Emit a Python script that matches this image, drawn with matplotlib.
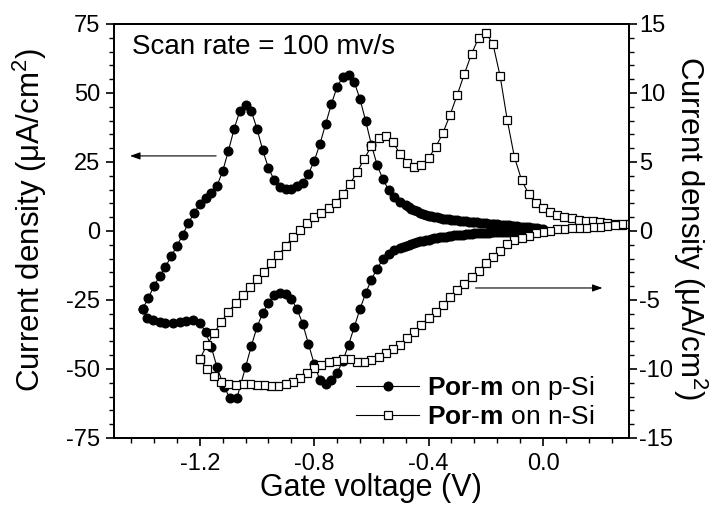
import numpy as np
import matplotlib
matplotlib.use('Agg')
import matplotlib.pyplot as plt
from matplotlib.ticker import MultipleLocator, AutoMinorLocator, FormatStrFormatter

plt.rcParams['font.family'] = ['Liberation Sans', 'DejaVu Sans']
plt.rcParams['mathtext.fontset'] = 'custom'
plt.rcParams['mathtext.rm'] = 'Liberation Sans'
plt.rcParams['mathtext.bf'] = 'Liberation Sans:bold'
plt.rcParams['mathtext.default'] = 'regular'
plt.rcParams['axes.unicode_minus'] = False

# Por-m on p-Si (left axis), forward scan -1.4 -> 0 V
p_v_fwd = [-1.40, -1.38, -1.36, -1.34, -1.32, -1.30, -1.28, -1.26, -1.24, -1.22,
           -1.20, -1.18, -1.16, -1.14, -1.12, -1.10, -1.08, -1.06, -1.04, -1.02,
           -1.00, -0.98, -0.96, -0.94, -0.92, -0.90, -0.88, -0.86, -0.84, -0.82,
           -0.80, -0.78, -0.76, -0.74, -0.72, -0.70, -0.68, -0.66, -0.64, -0.62,
           -0.60, -0.58, -0.56, -0.54, -0.52, -0.50, -0.48,
           -0.47, -0.46, -0.45, -0.44, -0.43, -0.42, -0.41, -0.40, -0.39, -0.38,
           -0.37, -0.36, -0.35, -0.34, -0.33, -0.32, -0.31, -0.30, -0.29, -0.28,
           -0.27, -0.26, -0.25, -0.24, -0.23, -0.22, -0.21, -0.20, -0.19, -0.18,
           -0.17, -0.16, -0.15, -0.14, -0.13, -0.12, -0.11, -0.10, -0.09, -0.08,
           -0.07, -0.06, -0.05, -0.04, -0.03, -0.02, -0.01, 0.00]
p_j_fwd = [-28.3, -24.3, -19.9, -16.3, -12.9, -9.2, -5.4, -1.4, 2.9, 6.5,
           9.8, 12.0, 13.8, 16.3, 21.7, 29.0, 37.0, 43.5, 45.7, 43.5,
           37.0, 29.3, 22.8, 18.5, 15.9, 15.2, 15.2, 16.3, 17.4, 20.7,
           25.4, 31.5, 38.8, 46.0, 52.2, 55.8, 56.5, 54.0, 47.8, 39.9,
           31.2, 23.9, 18.8, 14.9, 12.3, 10.5, 9.4,
           8.7, 8.1, 7.6, 7.1, 6.6, 6.2, 5.9, 5.6, 5.3, 5.1,
           4.9, 4.7, 4.5, 4.3, 4.2, 4.0, 3.9, 3.8, 3.7, 3.6,
           3.5, 3.4, 3.3, 3.2, 3.1, 3.0, 2.9, 2.8, 2.7, 2.6,
           2.5, 2.4, 2.3, 2.2, 2.1, 2.0, 1.9, 1.8, 1.7, 1.6,
           1.5, 1.4, 1.3, 1.2, 1.1, 1.0, 0.9, 0.8]

# Por-m on p-Si, reverse scan 0 -> -1.4 V
p_v_rev = [0.00, -0.01, -0.02, -0.03, -0.04, -0.05, -0.06, -0.07, -0.08, -0.09,
           -0.10, -0.11, -0.12, -0.13, -0.14, -0.15, -0.16, -0.17, -0.18, -0.19,
           -0.20, -0.21, -0.22, -0.23, -0.24, -0.25, -0.26, -0.27, -0.28, -0.29,
           -0.30, -0.31, -0.32, -0.33, -0.34, -0.35, -0.36, -0.37, -0.38, -0.39,
           -0.40, -0.41, -0.42, -0.43, -0.44, -0.45, -0.46, -0.47, -0.48, -0.49,
           -0.50, -0.52, -0.54, -0.56, -0.58, -0.60, -0.62, -0.64, -0.66, -0.68,
           -0.70, -0.72, -0.74, -0.76, -0.78, -0.80, -0.82, -0.84, -0.86, -0.88,
           -0.90, -0.92, -0.94, -0.96, -0.98, -1.00, -1.02, -1.04, -1.07, -1.095,
           -1.115, -1.14, -1.16, -1.18, -1.20, -1.225, -1.25, -1.27, -1.295, -1.32,
           -1.34, -1.365, -1.385, -1.40]
p_j_rev = [0.4, 0.3, 0.3, 0.2, 0.2, 0.1, 0.1, 0.0, 0.0, -0.1,
           -0.1, -0.2, -0.2, -0.3, -0.3, -0.4, -0.4, -0.5, -0.5, -0.6,
           -0.6, -0.7, -0.7, -0.8, -0.9, -1.0, -1.1, -1.2, -1.3, -1.4,
           -1.5, -1.6, -1.7, -1.9, -2.0, -2.2, -2.3, -2.5, -2.7, -2.9,
           -3.1, -3.3, -3.6, -3.8, -4.1, -4.4, -4.7, -5.0, -5.4, -5.8,
           -6.2, -7.0, -8.3, -10.3, -13.6, -17.6, -22.5, -28.3, -34.8, -41.3,
           -47.1, -51.4, -54.0, -55.5, -54.0, -48.2, -40.9, -33.7, -28.3, -24.6,
           -22.8, -22.5, -23.2, -26.1, -29.7, -34.8, -41.7, -49.3, -60.5, -60.5,
           -56.5, -49.3, -42.0, -36.6, -33.3, -32.2, -32.6, -33.0, -33.3, -33.3,
           -33.0, -32.2, -31.5, -28.3]

# Por-m on n-Si (right axis), forward scan -1.2 -> 0.3 V
n_v_fwd = [-1.200, -1.175, -1.150, -1.125, -1.100, -1.075, -1.050, -1.025, -1.000, -0.975,
           -0.950, -0.925, -0.900, -0.875, -0.850, -0.825, -0.800, -0.775, -0.750, -0.725,
           -0.700, -0.675, -0.650, -0.625, -0.600, -0.575, -0.550, -0.525, -0.500, -0.475,
           -0.450, -0.425, -0.400, -0.375, -0.350, -0.325, -0.300, -0.275, -0.250, -0.225,
           -0.200, -0.175, -0.150, -0.125, -0.100, -0.075, -0.050, -0.025, 0.000, 0.025,
           0.050, 0.075, 0.100, 0.125, 0.150, 0.175, 0.200, 0.225, 0.250, 0.275, 0.300]
n_j_fwd = [-9.28, -8.26, -7.39, -6.59, -5.87, -5.22, -4.64, -4.06, -3.48, -2.97,
           -2.32, -1.74, -1.09, -0.43, 0.07, 0.58, 1.01, 1.30, 1.67, 2.03,
           2.68, 3.41, 4.28, 5.22, 6.16, 6.74, 6.88, 6.45, 5.58, 4.93,
           4.64, 4.78, 5.29, 6.09, 7.10, 8.41, 9.86, 11.38, 12.83, 13.99,
           14.35, 13.55, 11.23, 8.04, 5.36, 3.70, 2.68, 2.03, 1.67, 1.38,
           1.16, 1.01, 0.94, 0.80, 0.72, 0.72, 0.65, 0.58, 0.51, 0.43, 0.50]

# Por-m on n-Si, reverse scan 0.3 -> -1.2 V
n_v_rev = [0.275, 0.250, 0.225, 0.200, 0.175, 0.150, 0.125, 0.100, 0.075, 0.050,
           0.025, 0.000, -0.025, -0.050, -0.075, -0.100, -0.125, -0.150, -0.175, -0.200,
           -0.225, -0.250, -0.275, -0.300, -0.325, -0.350, -0.375, -0.400, -0.425, -0.450,
           -0.475, -0.500, -0.525, -0.550, -0.575, -0.600, -0.625, -0.650, -0.675, -0.700,
           -0.725, -0.750, -0.775, -0.800, -0.825, -0.850, -0.875, -0.900, -0.925, -0.950,
           -0.975, -1.000, -1.025, -1.050, -1.075, -1.100, -1.125, -1.150, -1.175, -1.200]
n_j_rev = [0.51, 0.43, 0.36, 0.29, 0.29, 0.22, 0.22, 0.22, 0.14, 0.14,
           0.00, -0.07, -0.14, -0.36, -0.51, -0.65, -0.94, -1.45, -1.88, -2.32,
           -2.90, -3.33, -3.84, -4.28, -4.78, -5.36, -5.87, -6.30, -6.81, -7.32,
           -7.75, -8.26, -8.55, -8.84, -9.13, -9.35, -9.49, -9.49, -9.28, -9.28,
           -9.42, -9.49, -9.71, -9.93, -10.29, -10.65, -10.94, -11.09, -11.23, -11.23,
           -11.16, -11.16, -11.09, -11.09, -11.16, -11.09, -10.94, -10.51, -10.00, -9.28]

p_v = p_v_fwd + p_v_rev
p_j = p_j_fwd + p_j_rev
n_v = n_v_fwd + n_v_rev
n_j = n_j_fwd + n_j_rev

fig = plt.figure(figsize=(7.17, 5.05), dpi=100)
ax = fig.add_axes([0.159, 0.1327, 0.718, 0.8198])
ax2 = ax.twinx()

l1, = ax.plot(p_v, p_j, '-', color='k', lw=0.8, marker='o', ms=6.2,
              mfc='k', mec='k', label=r'$\mathbf{Por}$-$\mathbf{m}$ on p-Si')
l2, = ax2.plot(n_v, n_j, '-', color='k', lw=0.8, marker='s', ms=5.8,
               mfc='white', mec='k', mew=0.9, label=r'$\mathbf{Por}$-$\mathbf{m}$ on n-Si')

ax.set_xlim(-1.5, 0.3)
ax.set_ylim(-75, 75)
ax2.set_ylim(-15, 15)

ax.xaxis.set_major_locator(MultipleLocator(0.4))
ax.xaxis.set_minor_locator(AutoMinorLocator(5))
ax.xaxis.set_major_formatter(FormatStrFormatter('%.1f'))
ax.yaxis.set_major_locator(MultipleLocator(25))
ax.yaxis.set_minor_locator(AutoMinorLocator(5))
ax2.yaxis.set_major_locator(MultipleLocator(5))
ax2.yaxis.set_minor_locator(AutoMinorLocator(5))

for a in (ax, ax2):
    for s in a.spines.values():
        s.set_linewidth(1.3)
ax.tick_params(axis='x', which='major', direction='out', length=5.8, width=1.2, labelsize=17, pad=5)
ax.tick_params(axis='x', which='minor', direction='out', length=3.6, width=1.0)
ax.tick_params(axis='y', which='major', direction='out', length=5.8, width=1.2, labelsize=17, pad=4)
ax.tick_params(axis='y', which='minor', direction='out', length=3.6, width=1.0)
ax2.tick_params(axis='y', which='major', direction='out', length=5.8, width=1.2, labelsize=17, pad=1.5)
ax2.tick_params(axis='y', which='minor', direction='out', length=3.6, width=1.0)

ax.set_xlabel('Gate voltage (V)', fontsize=22)
ax.xaxis.set_label_coords(0.5, -0.085)
ax.set_ylabel(r'Current density ($\mu$A/cm$^2$)', fontsize=22.5)
ax.yaxis.set_label_coords(-0.126, 0.527)
ax2.set_ylabel(r'Current density ($\mu$A/cm$^2$)', fontsize=22.5, rotation=270, va='bottom')
ax2.yaxis.set_label_coords(1.082, 0.507)

ax.text(0.035, 0.944, 'Scan rate = 100 mv/s', transform=ax.transAxes,
        fontsize=20, va='center', ha='left')

arrow = dict(arrowstyle='-|>,head_length=0.5,head_width=0.18', color='k', lw=0.8,
             mutation_scale=12, shrinkA=0, shrinkB=0)
ax.annotate('', xy=(-1.444, 27.2), xytext=(-1.143, 27.2), arrowprops=arrow)
ax2.annotate('', xy=(0.208, -4.13), xytext=(-0.236, -4.13), arrowprops=arrow)

ax2.legend([l1, l2], [l1.get_label(), l2.get_label()], loc='center left',
           bbox_to_anchor=(0.47, 0.088), bbox_transform=ax.transAxes,
           frameon=False, fontsize=19, handlelength=2.4, handletextpad=0.3,
           labelspacing=0.1, borderpad=0, borderaxespad=0)

fig.savefig('out.png', dpi=100)
